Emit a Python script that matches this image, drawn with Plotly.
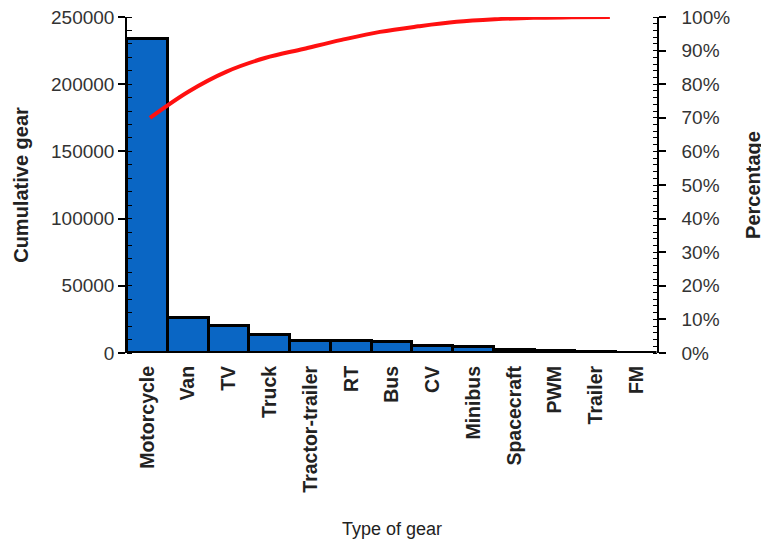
import plotly.graph_objects as go

categories = ["Motorcycle", "Van", "TV", "Truck", "Tractor-trailer", "RT", "Bus",
              "CV", "Minibus", "Spacecraft", "PWM", "Trailer", "FM"]
counts = [234000, 26000, 20000, 13500, 9000, 9000, 8000, 5500, 4500, 2500, 1500, 500, 300]

total = sum(counts)
cum_pct = []
running = 0
for c in counts:
    running += c
    cum_pct.append(running / total * 100)

FONT = "Liberation Sans, Arial, sans-serif"
TXT = "#222222"

fig = go.Figure()
fig.add_trace(go.Bar(
    x=categories, y=counts,
    marker=dict(color="#0a66c4", line=dict(color="black", width=3)),
    xaxis="x", yaxis="y", showlegend=False,
))
fig.add_trace(go.Scatter(
    x=list(range(len(categories))), y=cum_pct,
    mode="lines", line=dict(color="#ff1010", width=4, shape="spline"),
    xaxis="x2", yaxis="y2", showlegend=False,
))

fig.update_layout(
    width=769, height=541,
    margin=dict(l=119, r=120, t=9, b=196),
    paper_bgcolor="white", plot_bgcolor="white",
    bargap=0,
    font=dict(family=FONT, color=TXT),
    xaxis=dict(
        type="category", range=[-0.5, 12.5], automargin=False,
        tickangle=-90, showgrid=False, ticks="", ticklabelstandoff=8,
        tickfont=dict(size=19.5, family=FONT, color=TXT, weight="bold"),
        title=dict(text="Type of gear", font=dict(size=18, color=TXT), standoff=30),
        showline=False, zeroline=False,
    ),
    xaxis2=dict(overlaying="x", range=[-0.6, 13.23], visible=False),
    yaxis=dict(
        range=[0, 250000], dtick=50000, tickformat="d", showgrid=False, zeroline=False,
        automargin=False, ticklabeloverflow="allow",
        showline=True, linecolor="black", linewidth=1.5,
        ticks="outside", ticklen=7, tickwidth=1.5, tickcolor="black",
        minor=dict(dtick=10000, ticks="inside", ticklen=5, tickcolor="black", tickwidth=1),
        tickfont=dict(size=19, color="#333333"),
        title=dict(text="Cumulative gear", font=dict(size=20, color=TXT, weight="bold"), standoff=17),
    ),
    yaxis2=dict(
        overlaying="y", side="right", range=[0, 100], dtick=10, ticksuffix="%",
        automargin=False, ticklabeloverflow="allow",
        showgrid=False, zeroline=False,
        showline=True, linecolor="black", linewidth=1.5,
        ticks="outside", ticklen=7, tickwidth=1.5, tickcolor="black", ticklabelstandoff=12,
        minor=dict(dtick=2, ticks="inside", ticklen=4, tickcolor="black", tickwidth=1),
        tickfont=dict(size=19, color="#333333"),
        title=dict(text="Percentage", font=dict(size=20, color=TXT, weight="bold"), standoff=17),
    ),
)

fig.write_html("out.html")
